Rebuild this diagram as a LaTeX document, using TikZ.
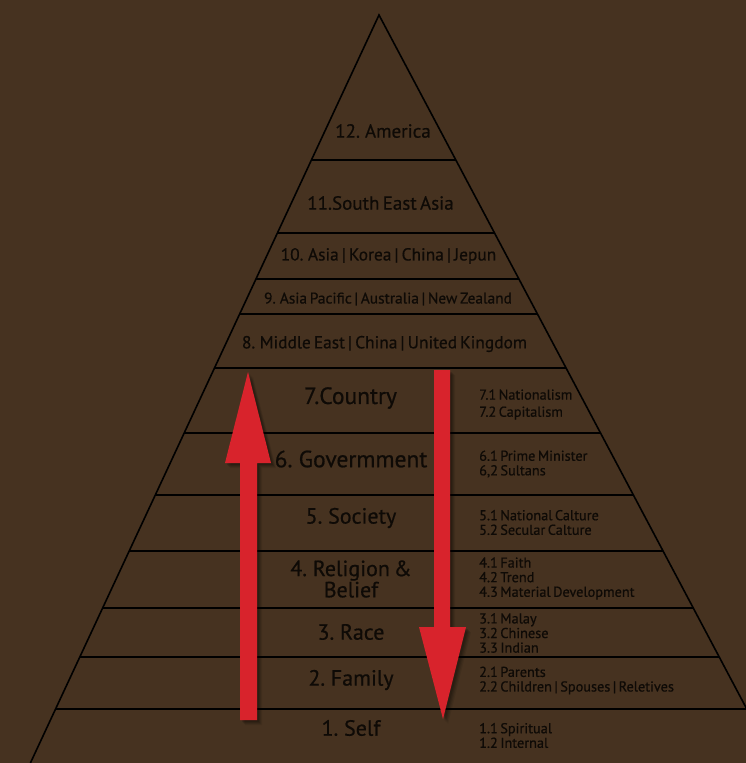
\documentclass[tikz,border=0pt]{standalone}
\usepackage{fontspec}
\setmainfont[FakeBold=0.6,WordSpace=0.65]{PT Sans}
\definecolor{bgbrown}{HTML}{463220}
\definecolor{inkc}{HTML}{0E0A06}
\definecolor{arrowred}{HTML}{D8232C}
\begin{document}
\begin{tikzpicture}[x=1pt,y=-1pt,
  lbl/.style={text=inkc,inner sep=0pt,anchor=center},
  big/.style={lbl,font=\fontsize{22}{20}\selectfont},
  sub/.style={text=inkc,font=\fontsize{14.3}{14.6}\selectfont,inner sep=0pt,anchor=west,align=left},
  tier/.style={black,line width=1.6pt},
  redarrow/.style={fill=arrowred,draw=none}]
\useasboundingbox (0,0) rectangle (746,763);
\fill[bgbrown] (0,0) rectangle (746,763);
\begin{scope}
\clip (0,0) rectangle (746,763);
% pyramid outline
\coordinate (apex) at (379,15);
\coordinate (bl) at (30.4,763);
\coordinate (br) at (775.4,763);
\draw[tier,line join=miter] (bl) -- (apex) -- (br);
% tier lines
\foreach \y/\l/\r in {160/311.4/455.9, 233/277.4/494.5, 279/256/518.9, 314/239.7/537.5,
  368/214.5/566.1, 433/184.2/600.5, 495/155.3/633.4, 551/129.2/663.1,
  608/102.7/693.3, 657/79.8/719.3, 709/55.6/746.8}
  \draw[tier] (\l,\y) -- (\r,\y);
\end{scope}
% arrow shapes
\def\uparr{(240,720) -- (257,720) -- (257,463) -- (271,463) -- (248,372) -- (225,463) -- (240,463) -- cycle}
\def\dnarr{(434,370) -- (450,370) -- (450,627) -- (466,627) -- (443,719) -- (419,627) -- (434,627) -- cycle}
% soft shadows
\foreach \d/\o in {5/0.08,4/0.1,3/0.12,2/0.14}{
  \begin{scope}[shift={(\d,\d)}]
    \fill[black,opacity=\o] \uparr;
    \fill[black,opacity=\o] \dnarr;
  \end{scope}}
\fill[redarrow] \uparr;
\fill[redarrow] \dnarr;
% labels
\node[lbl,font=\fontsize{19}{19}\selectfont] (t12) at (383,131) {12. America};
\node[lbl,font=\fontsize{19}{19}\selectfont] (t11) at (380.5,203) {11.South East Asia};
\node[lbl,font=\fontsize{17.4}{18}\selectfont] (t10) at (388.5,256) {10. Asia | Korea | China | Jepun};
\node[lbl,font=\fontsize{15.4}{16}\selectfont] (t9) at (388,299) {9. Asia Pacific | Australia | New Zealand};
\node[lbl,font=\fontsize{17.4}{18}\selectfont] (t8) at (384.5,344) {8. Middle East | China | United Kingdom};
\node[lbl,font=\fontsize{23.5}{20}\selectfont] (t7) at (350.5,398) {7.Country};
\node[lbl,font=\fontsize{23.5}{20}\selectfont] (t6) at (351,459) {6. Govermment};
\node[big] (t5) at (351,518) {5. Society};
\node[big,align=center] (t4) at (351,579) {4. Religion \&\\Belief};
\node[big] (t3) at (351,632) {3. Race};
\node[big] (t2) at (351,680) {2. Family};
\node[big] (t1) at (351,728) {1. Self};
% sub labels
\node[sub] (s7) at (479,404.5) {7.1 Nationalism\\[2.5pt]7.2 Capitalism};
\node[sub] (s6) at (479,464) {6.1 Prime Minister\\6,2 Sultans};
\node[sub] (s5) at (479,522.5) {5.1 National Calture\\5.2 Secular Calture};
\node[sub] (s4) at (479,578.5) {4.1 Faith\\4.2 Trend\\4.3 Material Development};
\node[sub] (s3) at (479,633) {3.1 Malay\\3.2 Chinese\\3.3 Indian};
\node[sub] (s2) at (479,680.5) {2.1 Parents\\2.2 Children | Spouses | Reletives};
\node[sub] (s1) at (479,735.5) {1.1 Spiritual\\1.2 Internal};
\end{tikzpicture}
\end{document}
